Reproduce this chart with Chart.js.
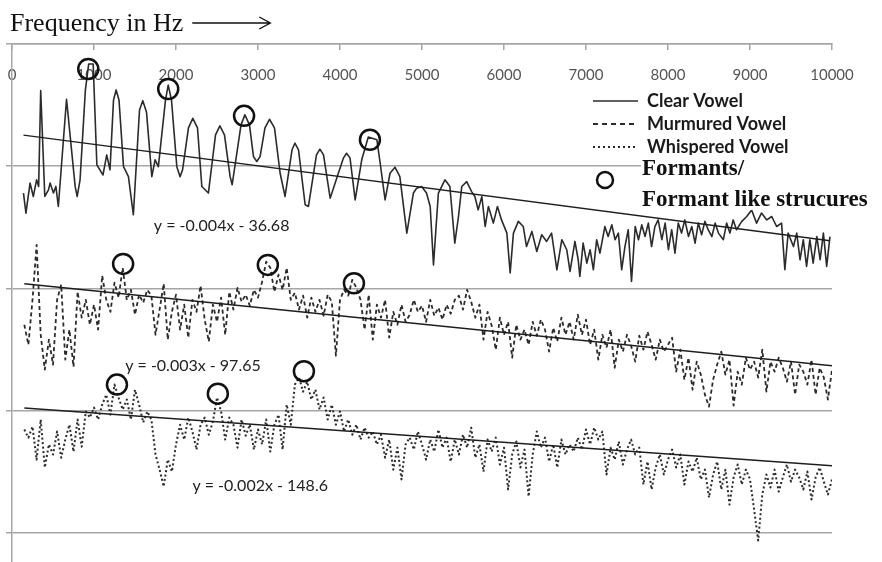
<!DOCTYPE html>
<html>
<head>
<meta charset="utf-8">
<title>Vowel spectra</title>
<script src="https://cdn.jsdelivr.net/npm/chart.js@4.4.1/dist/chart.umd.min.js"></script>
<style>
  html, body { margin: 0; padding: 0; background: #fff; }
  canvas { display: block; }
</style>
</head>
<body>
<canvas id="chart-spectrum" width="882" height="562"></canvas>
<script>
// Vowel spectra
// -----------------------------------

var headingText = 'Frequency in Hz';
var freqTicks = [0, 1000, 2000, 3000, 4000, 5000, 6000, 7000, 8000, 9000, 10000];
var levelTicks = [0, -50, -100, -150, -200];
var seriesNames = ['Clear Vowel', 'Murmured Vowel', 'Whispered Vowel'];

// clear vowel, peak by peak
var clearHz = [
    140, 170, 220, 260, 300, 325, 350, 400, 445, 465,
    505, 535, 565, 665, 770, 795, 830, 895, 935, 990,
    1035, 1110, 1155, 1195, 1238, 1270, 1305, 1360, 1420, 1480,
    1555, 1595, 1640, 1705, 1745, 1785, 1872, 1905, 1945, 2010,
    2050, 2080, 2152, 2205, 2262, 2315, 2395, 2482, 2535, 2591,
    2660, 2685, 2793, 2840, 2896, 2945, 2985, 3025, 3085, 3140,
    3201, 3270, 3330, 3415, 3450, 3494, 3575, 3615, 3713, 3755,
    3799, 3880, 3980, 4043, 4080, 4122, 4185, 4265, 4345, 4450,
    4490, 4550, 4610, 4670, 4730, 4815, 4895, 4935, 4995, 5055,
    5100, 5140, 5200, 5280, 5340, 5400, 5445, 5485, 5545, 5605,
    5645, 5685, 5730, 5770, 5810, 5870, 5920, 5970, 6035, 6075,
    6115, 6175, 6235, 6275, 6340, 6400, 6460, 6520, 6580, 6645,
    6705, 6765, 6805, 6865, 6905, 6925, 6965, 7010, 7050, 7090,
    7130, 7170, 7230, 7270, 7315, 7355, 7395, 7435, 7475, 7515,
    7555, 7600, 7640, 7680, 7720, 7760, 7800, 7840, 7880, 7925,
    7965, 8005, 8045, 8085, 8125, 8165, 8205, 8250, 8290, 8330,
    8370, 8410, 8450, 8490, 8535, 8575, 8615, 8675, 8715, 8755,
    8795, 8835, 8900, 8960, 9020, 9080, 9140, 9205, 9265, 9325,
    9385, 9425, 9465, 9530, 9570, 9610, 9650, 9690, 9730, 9770,
    9815, 9855, 9895, 9935, 9975
];
var clearDb = [
    -61.0, -69.2, -56.9, -62.4, -55.6, -58.3, -19.1, -62.4, -59.7, -56.9,
    -61.0, -58.3, -66.5, -22.6, -58.3, -62.4, -55.6, -18.8, -8.2, -8.2,
    -49.5, -53.6, -45.4, -51.5, -22.9, -18.8, -22.9, -50.2, -54.3, -69.9,
    -27.0, -23.2, -27.8, -54.3, -47.4, -50.2, -22.9, -16.8, -22.9, -50.2,
    -54.3, -51.5, -34.3, -30.4, -34.3, -58.3, -61.0, -37.2, -33.5, -37.2,
    -54.3, -57.6, -33.1, -29.0, -33.1, -46.1, -48.1, -46.1, -34.3, -30.8,
    -34.3, -52.9, -62.4, -43.3, -40.6, -43.3, -65.8, -66.5, -45.4, -43.0,
    -45.4, -63.1, -52.9, -46.6, -44.7, -46.6, -63.8, -47.4, -38.1, -39.2,
    -48.8, -63.8, -52.9, -50.4, -54.3, -77.4, -61.0, -59.0, -58.3, -61.0,
    -66.5, -90.4, -61.0, -55.6, -58.3, -81.5, -70.6, -58.3, -56.3, -60.4,
    -62.4, -67.9, -62.4, -74.7, -66.5, -73.3, -66.5, -72.0, -77.4, -93.7,
    -77.4, -72.6, -74.7, -82.9, -76.7, -84.9, -78.1, -80.8, -77.4, -92.4,
    -80.1, -84.2, -93.1, -80.8, -88.3, -95.1, -81.5, -89.7, -84.2, -92.4,
    -80.1, -85.6, -74.7, -78.8, -74.0, -80.1, -77.4, -92.4, -82.9, -76.0,
    -97.2, -74.7, -80.1, -74.0, -78.8, -73.3, -82.9, -74.7, -72.0, -80.1,
    -73.3, -84.2, -76.0, -85.6, -73.3, -77.4, -72.0, -78.8, -74.7, -81.5,
    -73.3, -78.1, -72.6, -76.0, -78.8, -73.3, -77.4, -80.1, -73.3, -77.4,
    -72.0, -76.0, -72.6, -70.6, -67.9, -73.3, -69.2, -72.0, -70.6, -74.7,
    -73.3, -92.4, -77.4, -82.9, -77.4, -88.3, -80.1, -91.0, -80.1, -89.7,
    -78.8, -88.3, -77.4, -91.0, -78.8
];

// murmured and whispered vowels on a 50 Hz grid
var bandHz = [
    150, 200, 250, 300, 350, 400, 450, 500, 550, 600,
    650, 700, 750, 800, 850, 900, 950, 1000, 1050, 1100,
    1150, 1200, 1250, 1300, 1350, 1400, 1450, 1500, 1550, 1600,
    1650, 1700, 1750, 1800, 1850, 1900, 1950, 2000, 2050, 2100,
    2150, 2200, 2250, 2300, 2350, 2400, 2450, 2500, 2550, 2600,
    2650, 2700, 2750, 2800, 2850, 2900, 2950, 3000, 3050, 3100,
    3150, 3200, 3250, 3300, 3350, 3400, 3450, 3500, 3550, 3600,
    3650, 3700, 3750, 3800, 3850, 3900, 3950, 4000, 4050, 4100,
    4150, 4200, 4250, 4300, 4350, 4400, 4450, 4500, 4550, 4600,
    4650, 4700, 4750, 4800, 4850, 4900, 4950, 5000, 5050, 5100,
    5150, 5200, 5250, 5300, 5350, 5400, 5450, 5500, 5550, 5600,
    5650, 5700, 5750, 5800, 5850, 5900, 5950, 6000, 6050, 6100,
    6150, 6200, 6250, 6300, 6350, 6400, 6450, 6500, 6550, 6600,
    6650, 6700, 6750, 6800, 6850, 6900, 6950, 7000, 7050, 7100,
    7150, 7200, 7250, 7300, 7350, 7400, 7450, 7500, 7550, 7600,
    7650, 7700, 7750, 7800, 7850, 7900, 7950, 8000, 8050, 8100,
    8150, 8200, 8250, 8300, 8350, 8400, 8450, 8500, 8550, 8600,
    8650, 8700, 8750, 8800, 8850, 8900, 8950, 9000, 9050, 9100,
    9150, 9200, 9250, 9300, 9350, 9400, 9450, 9500, 9550, 9600,
    9650, 9700, 9750, 9800, 9850, 9900, 9950, 10000
];
var murmuredDb = [
    -114.9, -123.1, -104.7, -82.2, -119.0, -133.3, -121.0, -131.2, -104.7, -98.5,
    -129.2, -116.9, -132.1, -101.4, -112.0, -104.7, -114.9, -106.7, -116.9, -94.8,
    -104.7, -109.6, -97.7, -103.8, -91.6, -104.7, -100.6, -110.8, -102.6, -105.9,
    -100.6, -103.0, -119.0, -108.7, -98.1, -121.0, -109.6, -102.6, -116.9, -106.7,
    -120.2, -104.7, -109.6, -98.9, -112.8, -121.8, -106.7, -113.7, -103.8, -119.0,
    -101.4, -108.7, -99.8, -105.5, -102.6, -107.1, -100.6, -103.8, -97.3, -89.1,
    -91.6, -101.4, -94.4, -100.6, -91.6, -104.7, -101.8, -108.7, -103.0, -112.0,
    -103.8, -109.6, -104.7, -111.2, -102.6, -105.5, -127.6, -104.7, -100.6, -103.0,
    -96.5, -99.8, -104.7, -116.9, -102.6, -121.0, -106.7, -112.0, -104.7, -120.2,
    -109.6, -114.9, -106.7, -113.7, -110.8, -104.7, -109.6, -107.1, -113.7, -104.7,
    -111.2, -107.9, -112.8, -106.7, -110.4, -104.7, -103.0, -108.7, -100.6, -105.5,
    -112.0, -106.7, -121.0, -109.6, -115.3, -125.1, -112.0, -119.0, -113.7, -128.4,
    -114.9, -121.0, -116.9, -123.1, -113.7, -119.4, -112.8, -116.9, -125.9, -116.1,
    -121.8, -112.0, -119.0, -113.7, -121.0, -110.8, -119.0, -112.8, -123.1, -116.9,
    -129.2, -119.0, -124.3, -116.9, -132.5, -121.0, -125.9, -119.0, -123.5, -130.0,
    -119.4, -125.1, -117.7, -123.1, -129.2, -121.0, -125.9, -123.1, -120.2, -134.1,
    -125.1, -137.4, -128.4, -141.5, -130.0, -135.3, -143.5, -148.4, -137.4, -131.2,
    -125.9, -135.3, -129.2, -148.0, -134.1, -139.4, -128.4, -133.3, -130.0, -136.5,
    -125.1, -142.3, -130.0, -134.1, -128.4, -132.5, -138.2, -130.0, -143.5, -131.2,
    -134.1, -139.4, -129.2, -143.5, -132.5, -136.5, -145.5, -133.3
];
var whisperedDb = [
    -157.8, -161.1, -156.6, -170.1, -153.7, -173.3, -163.9, -168.0, -158.6, -169.3,
    -161.9, -155.8, -166.8, -153.7, -164.8, -150.4, -152.9, -148.8, -153.7, -147.6,
    -143.5, -151.7, -139.4, -144.7, -149.6, -145.5, -153.7, -141.5, -147.6, -154.9,
    -150.4, -153.7, -168.0, -174.2, -181.1, -170.1, -175.0, -163.9, -155.8, -161.9,
    -152.9, -158.6, -166.0, -155.8, -152.9, -159.9, -154.5, -144.7, -150.4, -161.9,
    -152.9, -155.8, -165.2, -153.7, -160.3, -155.8, -166.0, -157.8, -163.9, -153.7,
    -166.8, -155.8, -151.7, -166.0, -147.6, -155.8, -139.4, -136.5, -142.3, -138.2,
    -145.5, -141.5, -149.6, -144.7, -153.7, -147.6, -155.8, -150.4, -158.6, -153.7,
    -159.9, -155.8, -161.9, -157.0, -161.1, -158.6, -163.9, -159.9, -169.3, -161.9,
    -174.2, -165.2, -178.2, -163.9, -161.1, -166.0, -158.6, -163.9, -170.1, -161.9,
    -166.8, -157.8, -165.2, -161.1, -170.9, -161.9, -168.0, -159.9, -165.2, -157.0,
    -169.3, -163.9, -175.0, -161.9, -166.8, -161.1, -172.1, -165.2, -182.3, -168.0,
    -162.7, -173.3, -166.0, -185.2, -168.0, -158.6, -165.2, -161.1, -170.9, -163.9,
    -173.3, -161.9, -168.0, -163.9, -166.8, -161.1, -166.0, -157.8, -163.9, -157.0,
    -161.9, -158.6, -176.2, -165.2, -170.1, -162.7, -172.1, -166.0, -161.9, -168.0,
    -165.2, -180.3, -170.9, -182.3, -173.3, -168.0, -176.2, -170.1, -166.0, -173.3,
    -168.0, -180.3, -170.9, -175.0, -169.3, -178.2, -174.2, -185.6, -176.2, -170.9,
    -182.3, -174.2, -188.5, -177.4, -172.1, -180.3, -174.2, -178.2, -190.5, -203.2,
    -184.4, -176.2, -181.5, -174.2, -183.2, -177.4, -172.1, -179.1, -174.2, -177.4,
    -182.3, -175.0, -186.4, -177.4, -173.3, -179.1, -184.4, -178.2
];

// linear fits: slope in dB per Hz, intercept in dB
var trendSlope = [-0.0044, -0.0034, -0.0024];
var trendIntercept = [-36.68, -97.65, -148.6];

// circled formants (clear, murmured, whispered)
var formantHz = [930, 1905, 2830, 4365, 1355, 3120, 4170, 1280, 2510, 3560];
var formantDb = [-10.2, -18.4, -29.4, -39.2, -90.0, -90.4, -97.9, -139.4, -143.1, -133.9];

(function(window, document, undefined) {
    'use strict';

    var INK = '#2b2b2b';
    var GRID = '#a6a6a6';

    function toPoints(xs, ys) {
        return xs.map(function(x, i) {
            return { x: x, y: ys[i] };
        });
    }

    function fitLine(i, xs) {
        var x0 = xs[0], x1 = xs[xs.length - 1];
        return [
            { x: x0, y: trendSlope[i] * x0 + trendIntercept[i] },
            { x: x1, y: trendSlope[i] * x1 + trendIntercept[i] }
        ];
    }

    function fitLabel(i) {
        return 'y = ' + trendSlope[i].toFixed(3) + 'x - ' + Math.abs(trendIntercept[i]);
    }

    function spectrum(i, points, dash, width) {
        return {
            label: seriesNames[i],
            data: points,
            showLine: true,
            borderColor: INK,
            borderWidth: width,
            borderDash: dash,
            borderJoinStyle: 'round',
            pointRadius: 0,
            tension: 0,
            order: 2
        };
    }

    function trend(points) {
        return {
            data: points,
            showLine: true,
            borderColor: '#1e1e1e',
            borderWidth: 1.5,
            pointRadius: 0,
            order: 1
        };
    }

    // heading, equations and the key are drawn on top of the plot
    var decor = {
        id: 'decor',
        afterDraw: function(chart) {
            var ctx = chart.ctx;
            var xs = chart.scales.x, ys = chart.scales.y;
            var i, y;
            ctx.save();

            // heading with arrow
            ctx.font = '26px "Liberation Serif", "Times New Roman", serif';
            ctx.fillStyle = '#111';
            ctx.textBaseline = 'alphabetic';
            ctx.textAlign = 'left';
            ctx.fillText(headingText, 10, 31);
            var ax0 = 10 + ctx.measureText(headingText).width + 9;
            var ax1 = ax0 + 78;
            ctx.strokeStyle = '#111';
            ctx.lineWidth = 1.4;
            ctx.beginPath();
            ctx.moveTo(ax0, 23);
            ctx.lineTo(ax1, 23);
            ctx.moveTo(ax1 - 11, 17);
            ctx.lineTo(ax1, 23);
            ctx.lineTo(ax1 - 11, 29);
            ctx.stroke();

            // trend equations
            var eqAt = [[1730, -74.3], [1380, -131.9], [2200, -181.0]];
            ctx.font = '16px Lato, sans-serif';
            ctx.fillStyle = '#222';
            ctx.textBaseline = 'middle';
            for (i = 0; i < 3; i++) {
                ctx.fillText(fitLabel(i), xs.getPixelForValue(eqAt[i][0]), ys.getPixelForValue(eqAt[i][1]));
            }

            // key
            var rows = [101, 124, 147];
            ctx.font = 'bold 18px Lato, sans-serif';
            ctx.fillStyle = '#1a1a1a';
            for (i = 0; i < 3; i++) {
                var ds = chart.data.datasets[i];
                y = rows[i];
                ctx.strokeStyle = ds.borderColor;
                ctx.lineWidth = i === 0 ? 1.6 : 1.8;
                ctx.setLineDash(i === 1 ? [5, 4] : (i === 2 ? [2, 3] : []));
                ctx.beginPath();
                ctx.moveTo(593, y);
                ctx.lineTo(638, y);
                ctx.stroke();
                ctx.setLineDash([]);
                ctx.fillText(ds.label, 647, y);
            }

            ctx.fillStyle = '#fff';
            ctx.fillRect(641, 155, 241, 55);
            ctx.strokeStyle = '#111';
            ctx.lineWidth = 2.5;
            ctx.beginPath();
            ctx.arc(605, 180, 8, 0, Math.PI * 2);
            ctx.stroke();
            ctx.font = 'bold 23px "Liberation Serif", "Times New Roman", serif';
            ctx.fillStyle = '#111';
            ctx.textBaseline = 'alphabetic';
            ctx.fillText('Formants/', 642, 175);
            ctx.fillText('Formant like strucures', 642, 206);

            ctx.restore();
        }
    };

    function noEdgePadding(scale) {
        scale.paddingLeft = 0;
        scale.paddingRight = 0;
        scale.paddingTop = 0;
        scale.paddingBottom = 0;
    }

    function initSpectrumChart() {
        var canvas = document.getElementById('chart-spectrum');
        if (typeof Chart === 'undefined' || !canvas) return;

        var datasets = [
            spectrum(0, toPoints(clearHz, clearDb), [], 1.6),
            spectrum(1, toPoints(bandHz, murmuredDb), [4, 3], 1.8),
            spectrum(2, toPoints(bandHz, whisperedDb), [2, 2.5], 2),
            trend(fitLine(0, clearHz)),
            trend(fitLine(1, bandHz)),
            trend(fitLine(2, bandHz)),
            {
                data: toPoints(formantHz, formantDb),
                showLine: false,
                pointStyle: 'circle',
                pointRadius: 10,
                pointBorderWidth: 2.5,
                pointBorderColor: '#111',
                pointBackgroundColor: 'rgba(0,0,0,0)',
                order: 0
            }
        ];

        new Chart(canvas.getContext('2d'), {
            type: 'scatter',
            data: { datasets: datasets },
            plugins: [decor],
            options: {
                responsive: false,
                animation: false,
                devicePixelRatio: 1,
                layout: { autoPadding: false, padding: { top: 6, left: 6, right: 50, bottom: 0 } },
                plugins: {
                    legend: { display: false },
                    tooltip: { enabled: false }
                },
                scales: {
                    x: {
                        type: 'linear',
                        position: 'top',
                        min: 0,
                        max: 10000,
                        afterBuildTicks: function(scale) {
                            scale.ticks = freqTicks.map(function(v) { return { value: v }; });
                        },
                        afterFit: noEdgePadding,
                        ticks: {
                            mirror: true,
                            padding: 22,
                            maxRotation: 0,
                            autoSkip: false,
                            color: '#555',
                            font: { family: 'Lato', size: 15 },
                            callback: function(v) { return String(v); }
                        },
                        grid: {
                            drawOnChartArea: false,
                            drawTicks: true,
                            tickLength: -6,
                            color: GRID,
                            lineWidth: 1.5
                        },
                        border: { color: GRID, width: 1.5 }
                    },
                    y: {
                        type: 'linear',
                        min: -212,
                        max: 0,
                        afterBuildTicks: function(scale) {
                            scale.ticks = levelTicks.map(function(v) { return { value: v }; });
                        },
                        afterFit: noEdgePadding,
                        ticks: { display: false },
                        grid: { color: GRID, lineWidth: 1.5, tickLength: 6 },
                        border: { color: GRID, width: 1.5 }
                    }
                }
            }
        });
    }

    initSpectrumChart();

})(window, document);
</script>
</body>
</html>
